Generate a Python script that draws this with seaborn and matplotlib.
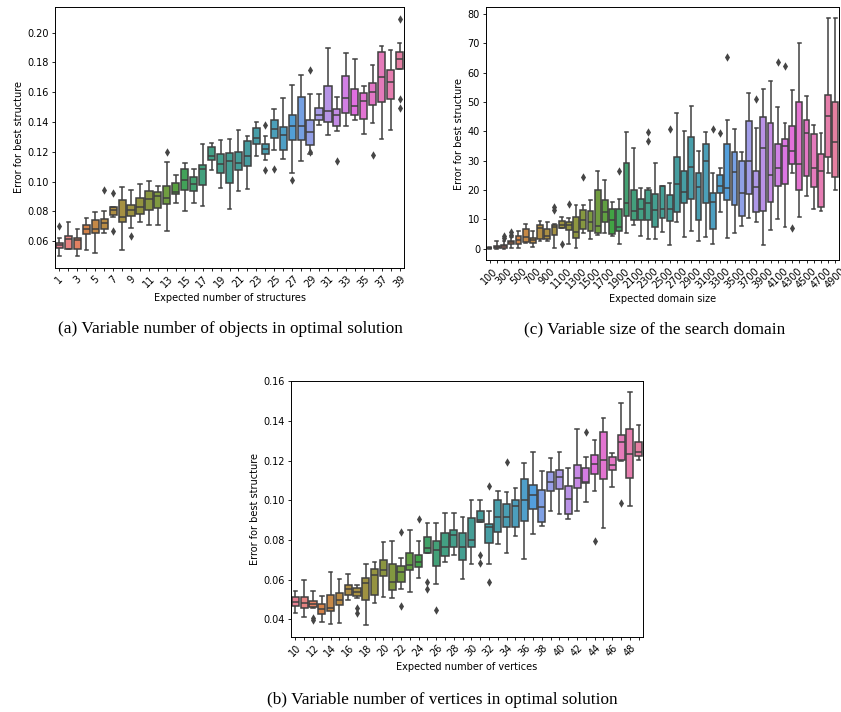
import numpy as np
import pandas as pd
import matplotlib
matplotlib.use("Agg")
import matplotlib.pyplot as plt
import seaborn as sns

# ---------------- Panel (a): expected number of structures ----------------
cats_a = list(range(1, 40))
q1_a = [0.0553, 0.0548, 0.0550, 0.0650, 0.0656, 0.0679, 0.0775, 0.0728, 0.0766, 0.0784,
        0.0811, 0.0822, 0.0847, 0.0914, 0.0943, 0.0937, 0.0975, 0.1143, 0.1060, 0.0991,
        0.1080, 0.1107, 0.1255, 0.1186, 0.1291, 0.1213, 0.1280, 0.1280, 0.1244, 0.1410,
        0.1399, 0.1370, 0.1462, 0.1444, 0.1417, 0.1515, 0.1535, 0.1556, 0.1758]
med_a = [0.0573, 0.0616, 0.0607, 0.0680, 0.0685, 0.0719, 0.0811, 0.0762, 0.0809, 0.0829,
         0.0880, 0.0901, 0.0892, 0.0932, 0.1008, 0.0986, 0.1082, 0.1170, 0.1118, 0.1137,
         0.1123, 0.1174, 0.1293, 0.1222, 0.1356, 0.1316, 0.1376, 0.1376, 0.1336, 0.1450,
         0.1477, 0.1444, 0.1560, 0.1509, 0.1542, 0.1603, 0.1704, 0.1666, 0.1821]
q3_a = [0.0591, 0.0638, 0.0620, 0.0712, 0.0744, 0.0748, 0.0827, 0.0874, 0.0845, 0.0892,
        0.0934, 0.0932, 0.0972, 0.0990, 0.1082, 0.1033, 0.1109, 0.1233, 0.1183, 0.1195,
        0.1201, 0.1271, 0.1358, 0.1255, 0.1410, 0.1365, 0.1450, 0.1565, 0.1410, 0.1495,
        0.1641, 0.1486, 0.1708, 0.1621, 0.1592, 0.1663, 0.1868, 0.1747, 0.1872]
lo_a = [0.0501, 0.0545, 0.0500, 0.0544, 0.0521, 0.0656, 0.0764, 0.0542, 0.0692, 0.0732,
        0.0710, 0.0708, 0.0670, 0.0854, 0.0806, 0.0854, 0.0833, 0.1078, 0.0957, 0.0815,
        0.0937, 0.0952, 0.1174, 0.1145, 0.1213, 0.1152, 0.1058, 0.1138, 0.1186, 0.1383,
        0.1311, 0.1338, 0.1374, 0.1410, 0.1320, 0.1390, 0.1284, 0.1343, 0.1758]
hi_a = [0.0625, 0.0728, 0.0685, 0.0753, 0.0795, 0.0804, 0.0829, 0.0963, 0.0946, 0.0986,
        0.1002, 0.0972, 0.1132, 0.1042, 0.1125, 0.1085, 0.1253, 0.1262, 0.1282, 0.1287,
        0.1349, 0.1307, 0.1401, 0.1307, 0.1486, 0.1558, 0.1646, 0.1713, 0.1587, 0.1587,
        0.1899, 0.1567, 0.1861, 0.1823, 0.1641, 0.1785, 0.1913, 0.1886, 0.1933]
out_cat_a = [1, 6, 7, 7, 9, 13, 24, 24, 25, 27, 29, 29, 32, 36, 39, 39, 39]
out_val_a = [0.0705, 0.0946, 0.0921, 0.0667, 0.0636, 0.1197, 0.1381, 0.1076, 0.1087,
             0.1013, 0.1751, 0.1201, 0.1136, 0.1177, 0.2092, 0.1554, 0.1497]

# ---------------- Panel (c): expected domain size ----------------
cats_c = list(range(100, 5000, 100))
q1_c = [0.05, 0.1, 0.1, 1.7, 1.5, 2.3, 2.0, 3.2, 3.3, 4.5, 7.0, 6.3, 3.6, 6.8, 5.9, 5.2,
        9.0, 5.1, 6.1, 11.0, 9.9, 9.9, 9.9, 7.2, 10.3, 9.4, 12.3, 15.5, 16.8, 9.9, 15.5,
        6.8, 19.1, 16.6, 15.0, 11.1, 18.5, 12.6, 12.8, 15.9, 21.4, 22.0, 29.0, 19.8, 24.9,
        20.9, 14.3, 31.3, 24.5]
med_c = [0.1, 0.6, 0.7, 2.2, 2.8, 4.0, 3.0, 6.9, 4.3, 7.2, 8.0, 8.1, 5.6, 9.8, 8.9, 7.6,
         12.4, 9.9, 7.5, 15.7, 12.8, 13.5, 15.6, 13.2, 13.6, 13.6, 21.9, 19.3, 27.7, 21.1,
         29.9, 16.0, 21.3, 20.7, 26.0, 18.9, 29.9, 21.0, 34.4, 25.0, 27.6, 35.1, 33.4, 28.8,
         39.5, 27.6, 26.4, 45.1, 36.3]
q3_c = [0.25, 1.0, 1.3, 2.6, 4.2, 6.6, 3.6, 8.1, 6.6, 8.0, 9.3, 8.9, 10.9, 13.2, 12.7,
        20.0, 16.6, 13.6, 13.6, 29.2, 20.0, 17.0, 20.0, 18.5, 21.3, 18.3, 31.2, 26.6, 38.0,
        25.9, 35.7, 18.9, 25.0, 35.6, 32.8, 29.7, 43.6, 26.4, 44.9, 42.8, 35.5, 37.3, 41.7,
        49.9, 43.9, 39.0, 32.4, 52.5, 49.9]
lo_c = [0.0, 0.0, 0.0, 0.1, 0.3, 1.9, 0.4, 2.7, 2.6, 0.2, 7.0, 1.5, 0.3, 5.2, 3.4, 4.7,
        5.2, 4.3, 1.6, 5.2, 8.0, 4.3, 3.4, 3.4, 5.5, 1.1, 9.2, 4.1, 6.1, 2.5, 4.1, 1.6,
        12.3, 3.7, 5.2, 7.7, 10.5, 8.9, 1.1, 6.4, 10.1, 7.2, 25.9, 10.6, 18.0, 13.4, 12.7,
        25.7, 20.0]
hi_c = [0.4, 2.5, 2.7, 3.9, 6.0, 8.4, 5.9, 9.5, 8.9, 8.5, 10.7, 10.5, 15.0, 15.0, 16.5,
        26.6, 23.4, 15.8, 16.8, 39.9, 34.4, 20.5, 20.5, 29.2, 21.5, 22.3, 46.4, 40.2, 48.5,
        33.3, 39.9, 25.9, 27.4, 44.0, 40.7, 33.1, 53.2, 41.0, 54.3, 57.3, 48.2, 43.0, 54.1,
        70.3, 52.0, 42.0, 39.3, 78.5, 78.5]
out_cat_c = [300, 300, 400, 400, 1000, 1000, 1100, 1200, 1400, 1900, 2300, 2300, 2600,
             3200, 3300, 3400, 3800, 4100, 4200, 4300]
out_val_c = [3.5, 4.3, 4.7, 5.5, 13.2, 14.0, 1.4, 15.2, 24.4, 26.3, 39.7, 36.6, 40.9,
             40.9, 39.5, 65.5, 50.9, 63.5, 62.3, 7.0]

# ---------------- Panel (b): expected number of vertices ----------------
cats_b = list(range(10, 50))
q1_b = [0.0468, 0.0460, 0.0462, 0.0425, 0.0440, 0.0472, 0.0522, 0.0517, 0.0497, 0.0524,
        0.0617, 0.0549, 0.0590, 0.0647, 0.0665, 0.0735, 0.0669, 0.0719, 0.0765, 0.0702,
        0.0765, 0.0892, 0.0786, 0.0839, 0.0867, 0.0867, 0.0894, 0.0957, 0.0891, 0.1046,
        0.1058, 0.0932, 0.1061, 0.1086, 0.1133, 0.1106, 0.1153, 0.1206, 0.1113, 0.1224]
med_b = [0.0490, 0.0485, 0.0480, 0.0455, 0.0458, 0.0500, 0.0555, 0.0540, 0.0582, 0.0622,
         0.0647, 0.0587, 0.0637, 0.0672, 0.0690, 0.0759, 0.0752, 0.0764, 0.0824, 0.0764,
         0.0800, 0.0899, 0.0864, 0.0916, 0.0916, 0.0974, 0.1000, 0.1026, 0.0969, 0.1091,
         0.1116, 0.1009, 0.1113, 0.1093, 0.1186, 0.1203, 0.1178, 0.1296, 0.1236, 0.1246]
q3_b = [0.0513, 0.0515, 0.0493, 0.0480, 0.0522, 0.0532, 0.0574, 0.0557, 0.0609, 0.0655,
        0.0700, 0.0680, 0.0669, 0.0737, 0.0727, 0.0814, 0.0794, 0.0834, 0.0852, 0.0836,
        0.0911, 0.0947, 0.0882, 0.1002, 0.0981, 0.1000, 0.1106, 0.1079, 0.1051, 0.1141,
        0.1154, 0.1071, 0.1181, 0.1161, 0.1231, 0.1346, 0.1221, 0.1331, 0.1358, 0.1295]
lo_b = [0.0430, 0.0410, 0.0460, 0.0385, 0.0378, 0.0383, 0.0500, 0.0510, 0.0370, 0.0483,
        0.0515, 0.0508, 0.0554, 0.0540, 0.0609, 0.0735, 0.0579, 0.0692, 0.0727, 0.0602,
        0.0677, 0.0892, 0.0677, 0.0782, 0.0733, 0.0819, 0.0704, 0.0831, 0.0869, 0.0947,
        0.0929, 0.0904, 0.0949, 0.0994, 0.1046, 0.0861, 0.1068, 0.1198, 0.0974, 0.1203]
hi_b = [0.0542, 0.0600, 0.0545, 0.0517, 0.0639, 0.0604, 0.0630, 0.0575, 0.0680, 0.0690,
        0.0790, 0.0797, 0.0712, 0.0852, 0.0797, 0.0884, 0.0884, 0.0934, 0.0934, 0.0914,
        0.1002, 0.1000, 0.0949, 0.1049, 0.1044, 0.1064, 0.1188, 0.1246, 0.1148, 0.1214,
        0.1246, 0.1161, 0.1360, 0.1221, 0.1306, 0.1416, 0.1240, 0.1493, 0.1545, 0.1380]
out_cat_b = [12, 12, 17, 17, 22, 22, 24, 25, 25, 26, 31, 31, 32, 32, 34, 43, 44, 47]
out_val_b = [0.0405, 0.0398, 0.0457, 0.0432, 0.0842, 0.0468, 0.0907, 0.0590, 0.0552,
             0.0447, 0.0724, 0.0682, 0.1074, 0.0590, 0.1196, 0.1346, 0.0797, 0.0987]

FS = 7.0
plt.rcParams.update({
    "font.family": "DejaVu Sans",
    "font.size": FS,
    "axes.linewidth": 0.7,
    "xtick.major.size": 2.3,
    "ytick.major.size": 2.3,
    "xtick.major.width": 0.6,
    "ytick.major.width": 0.6,
    "xtick.major.pad": 2.0,
    "ytick.major.pad": 2.0,
    "axes.labelpad": 2.5,
})

fig = plt.figure(figsize=(8.41, 7.12), dpi=100)


def panel(ax, cats, lo, q1, med, q3, hi, out_cats, out_vals, xlabel):
    order = [str(c) for c in cats]
    rows = []
    for c, a, b, m, d, e in zip(cats, lo, q1, med, q3, hi):
        for v in (a, b, m, d, e):
            rows.append((str(c), v))
    df = pd.DataFrame(rows, columns=["cat", "val"])
    pal = sns.color_palette("husl", len(cats))
    sns.boxplot(data=df, x="cat", y="val", hue="cat", order=order, hue_order=order,
                palette=pal, saturation=0.75, whis=(0, 100), linewidth=1.1,
                fliersize=0, legend=False, ax=ax, width=0.8)
    odf = pd.DataFrame({"cat": [str(c) for c in out_cats], "val": out_vals})
    sns.stripplot(data=odf, x="cat", y="val", order=order, jitter=False, marker="d",
                  color="0.27", size=4.3, linewidth=0, ax=ax)
    ax.set_xticks(range(len(order)))
    ax.set_xticklabels([lab if i % 2 == 0 else "" for i, lab in enumerate(order)],
                       rotation=45, fontsize=FS)
    ax.tick_params(axis="y", labelsize=FS)
    ax.set_xlim(-0.5, len(order) - 0.5)
    ax.set_xlabel(xlabel, fontsize=FS)
    ax.set_ylabel("Error for best structure", fontsize=FS)
    for s in ax.spines.values():
        s.set_visible(True)
        s.set_color("black")


ax_a = fig.add_axes([0.0654, 0.6236, 0.4150, 0.3666])
panel(ax_a, cats_a, lo_a, q1_a, med_a, q3_a, hi_a, out_cat_a, out_val_a,
      "Expected number of structures")
ax_a.set_yticks([0.06, 0.08, 0.10, 0.12, 0.14, 0.16, 0.18, 0.20])

ax_c = fig.add_axes([0.5779, 0.6348, 0.4197, 0.3554])
panel(ax_c, cats_c, lo_c, q1_c, med_c, q3_c, hi_c, out_cat_c, out_val_c,
      "Expected domain size")
ax_c.set_yticks([0, 10, 20, 30, 40, 50, 60, 70, 80])

ax_b = fig.add_axes([0.3460, 0.1053, 0.4186, 0.3596])
panel(ax_b, cats_b, lo_b, q1_b, med_b, q3_b, hi_b, out_cat_b, out_val_b,
      "Expected number of vertices")
ax_b.set_yticks([0.04, 0.06, 0.08, 0.10, 0.12, 0.14, 0.16])
ax_b.set_ylim(top=0.1602)

cap_kw = dict(family="Liberation Serif", fontsize=12.4, ha="center", va="center")
fig.text(0.2735, 0.5379, "(a) Variable number of objects in optimal solution", **cap_kw)
fig.text(0.7788, 0.5379, "(c) Variable size of the search domain", **cap_kw)
fig.text(0.5256, 0.0169, "(b) Variable number of vertices in optimal solution", **cap_kw)

fig.savefig("out.png", dpi=100)
